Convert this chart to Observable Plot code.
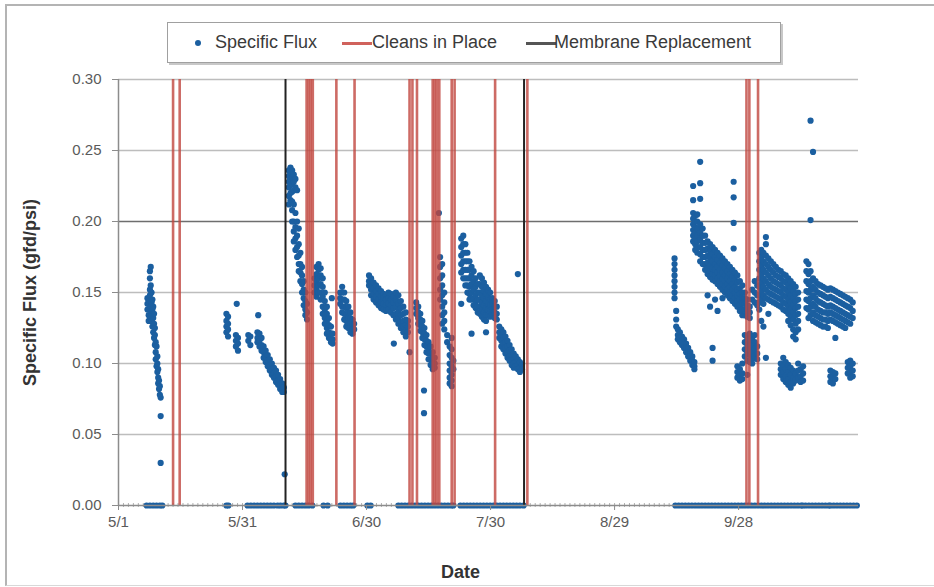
<!DOCTYPE html>
<html>
<head>
<meta charset="utf-8">
<script src="https://cdn.jsdelivr.net/npm/d3@7"></script>
<script src="https://cdn.jsdelivr.net/npm/@observablehq/plot@0.6"></script>
<style>
  html, body { margin: 0; padding: 0; background: #fff; }
  #wrap { position: relative; width: 934px; height: 587px; overflow: hidden; font-family: "Liberation Sans", Arial, sans-serif; }
  #border { position: absolute; left: 5px; top: 4px; width: 960px; height: 582px; border-left: 2px solid #b4b4b4; border-top: 2px solid #b4b4b4; border-bottom: 1px solid #d8d8d8; box-sizing: border-box; }
  #legend { position: absolute; left: 167px; top: 22px; width: 614px; height: 41px; border: 1px solid #a0a0a0; box-shadow: 2px 2px 0 #c8c8c8; box-sizing: border-box; background: #fff; }
  .li { position: absolute; top: 0; height: 39px; line-height: 39px; font-size: 18px; color: #3a3a3a; white-space: nowrap; }
  .sw { position: absolute; height: 3px; top: 19px; }
  .dotsw { position: absolute; width: 6px; height: 6px; border-radius: 3px; top: 17px; background: #1b5fa0; }
  svg { position: absolute; left: 0; top: 0; }
</style>
</head>
<body>
<div id="wrap">
  <div id="border"></div>
  <div id="chart"></div>
  <div id="legend"></div>
</div>
<script>
// ---- data (day offsets from May 1; each row = [day, flux values...]) ----
const startDate = Date.UTC(2005, 4, 1);
const endDate = Date.UTC(2005, 9, 27);
const xTickLabels = ["5/1", "5/31", "6/30", "7/30", "8/29", "9/28"];
const xTickDays = [0, 30, 60, 90, 120, 150];
const yTicks = [0, 0.05, 0.10, 0.15, 0.20, 0.25, 0.30];

const runA = [
  [7.0, 0.142, 0.138, 0.146], [7.3, 0.134, 0.130, 0.144], [7.6, 0.165, 0.160, 0.152, 0.148],
  [7.8, 0.168, 0.140, 0.133, 0.155], [8.0, 0.150, 0.143, 0.137, 0.130], [8.2, 0.145, 0.138, 0.126],
  [8.4, 0.132, 0.122, 0.140], [8.6, 0.128, 0.118, 0.135], [8.8, 0.113, 0.120, 0.125],
  [9.0, 0.108, 0.103, 0.115], [9.2, 0.112, 0.098], [9.4, 0.094, 0.100, 0.105],
  [9.6, 0.090, 0.086, 0.096], [9.8, 0.082, 0.088], [10.0, 0.078, 0.084], [10.2, 0.076, 0.063, 0.030]
];
const runB = [
  [26.1, 0.135, 0.130, 0.126, 0.122], [26.5, 0.133, 0.128, 0.124, 0.119],
  [28.4, 0.120, 0.116, 0.112], [28.6, 0.142], [28.9, 0.118, 0.114, 0.109],
  [31.4, 0.120, 0.116], [31.9, 0.119, 0.113], [33.8, 0.134],
  [33.6, 0.122, 0.118, 0.115], [34.1, 0.121, 0.116, 0.112], [34.6, 0.118, 0.113, 0.109],
  [35.1, 0.112, 0.108, 0.104], [35.6, 0.109, 0.105, 0.101], [36.1, 0.106, 0.102, 0.098],
  [36.6, 0.103, 0.099, 0.095], [37.1, 0.100, 0.096, 0.092], [37.6, 0.097, 0.093, 0.090],
  [38.1, 0.095, 0.091, 0.087], [38.6, 0.092, 0.088, 0.085], [39.1, 0.089, 0.085, 0.082],
  [39.6, 0.086, 0.083, 0.080], [40.0, 0.083, 0.080], [40.2, 0.022]
];
const runC = [
  [41.2, 0.236, 0.232, 0.228, 0.224, 0.218, 0.212], [41.6, 0.238, 0.234, 0.230, 0.226, 0.220, 0.215],
  [42.0, 0.236, 0.231, 0.226, 0.221, 0.214, 0.208, 0.200], [42.4, 0.233, 0.228, 0.222, 0.212, 0.200, 0.193, 0.186],
  [42.8, 0.230, 0.224, 0.206, 0.196, 0.188, 0.180], [43.2, 0.222, 0.200, 0.190, 0.182, 0.175],
  [43.6, 0.195, 0.184, 0.176, 0.170, 0.165], [44.0, 0.178, 0.170, 0.164, 0.158],
  [44.4, 0.168, 0.162, 0.156, 0.150], [44.8, 0.158, 0.152, 0.146, 0.141],
  [45.2, 0.150, 0.144, 0.138, 0.134], [45.6, 0.142, 0.136, 0.131]
];
const runD = [
  [47.4, 0.160, 0.155, 0.150], [47.9, 0.168, 0.163, 0.158, 0.152, 0.147],
  [48.4, 0.170, 0.166, 0.160, 0.155, 0.150], [48.9, 0.167, 0.162, 0.156, 0.150, 0.145],
  [49.4, 0.160, 0.154, 0.147, 0.140, 0.135], [49.9, 0.150, 0.144, 0.138, 0.132, 0.128],
  [50.4, 0.140, 0.135, 0.130, 0.125, 0.121], [50.9, 0.132, 0.127, 0.122, 0.118],
  [51.4, 0.126, 0.121, 0.117, 0.115], [51.8, 0.121, 0.117, 0.114], [51.6, 0.146]
];
const runE = [
  [53.6, 0.150, 0.146, 0.142], [54.1, 0.154, 0.150, 0.145, 0.140, 0.136],
  [54.6, 0.150, 0.145, 0.140, 0.135, 0.131], [55.1, 0.144, 0.139, 0.134, 0.130, 0.126],
  [55.6, 0.140, 0.136, 0.132, 0.128, 0.125], [56.1, 0.136, 0.132, 0.128, 0.125, 0.122],
  [56.6, 0.131, 0.127, 0.124, 0.121], [57.0, 0.128, 0.124]
];
const runF = [
  [60.6, 0.162, 0.158, 0.155], [61.1, 0.160, 0.156, 0.152, 0.148], [61.7, 0.157, 0.153, 0.149, 0.145],
  [62.3, 0.155, 0.151, 0.147, 0.143], [62.9, 0.153, 0.149, 0.145, 0.141], [63.5, 0.151, 0.147, 0.143, 0.139],
  [64.1, 0.149, 0.146, 0.142, 0.138], [64.7, 0.148, 0.145, 0.141, 0.137], [65.3, 0.150, 0.146, 0.142, 0.138],
  [65.9, 0.149, 0.145, 0.141, 0.136], [66.5, 0.147, 0.143, 0.139, 0.134], [67.1, 0.150, 0.145, 0.140, 0.135, 0.131],
  [67.7, 0.148, 0.142, 0.137, 0.132, 0.128], [68.3, 0.144, 0.139, 0.134, 0.129, 0.125],
  [68.9, 0.140, 0.135, 0.130, 0.126, 0.122], [69.5, 0.136, 0.131, 0.127, 0.123, 0.119],
  [70.0, 0.130, 0.126, 0.122], [66.6, 0.114], [70.4, 0.108]
];
const runG = [
  [72.0, 0.143, 0.139, 0.135], [72.5, 0.140, 0.136, 0.132, 0.128], [73.0, 0.135, 0.131, 0.127, 0.123],
  [73.5, 0.130, 0.126, 0.122, 0.118], [74.0, 0.125, 0.121, 0.117, 0.113], [74.5, 0.120, 0.116, 0.112, 0.108],
  [75.0, 0.115, 0.111, 0.107, 0.103], [75.5, 0.112, 0.107, 0.103, 0.099], [76.0, 0.108, 0.104, 0.100, 0.096],
  [76.5, 0.104, 0.100, 0.097], [73.9, 0.081, 0.065]
];
const runH = [
  [77.5, 0.206], [77.8, 0.175, 0.168, 0.160, 0.152, 0.145],
  [78.3, 0.170, 0.162, 0.155, 0.148, 0.140, 0.134, 0.128], [78.8, 0.150, 0.143, 0.136, 0.130, 0.124],
  [79.5, 0.120, 0.115], [80.1, 0.112, 0.106, 0.100, 0.095, 0.090, 0.086],
  [80.6, 0.118, 0.110, 0.104, 0.098, 0.092, 0.088, 0.084], [81.0, 0.102, 0.096]
];
const runI = [
  [82.9, 0.188, 0.182, 0.176, 0.170, 0.164, 0.142], [83.4, 0.190, 0.184, 0.178, 0.172, 0.166, 0.160],
  [83.9, 0.184, 0.178, 0.172, 0.166, 0.160, 0.155], [84.4, 0.178, 0.172, 0.166, 0.160, 0.155, 0.150],
  [84.9, 0.172, 0.166, 0.160, 0.154, 0.149, 0.145], [85.4, 0.168, 0.162, 0.156, 0.150, 0.145, 0.121],
  [85.9, 0.165, 0.158, 0.152, 0.146, 0.141], [86.4, 0.160, 0.154, 0.148, 0.143, 0.139],
  [86.9, 0.156, 0.150, 0.145, 0.140, 0.136], [87.4, 0.162, 0.156, 0.150, 0.145, 0.140, 0.135],
  [87.9, 0.160, 0.154, 0.148, 0.143, 0.138, 0.133], [88.4, 0.157, 0.151, 0.146, 0.141, 0.136, 0.131],
  [88.9, 0.154, 0.149, 0.144, 0.139, 0.134, 0.130, 0.122], [89.4, 0.152, 0.147, 0.142, 0.138, 0.134],
  [89.9, 0.150, 0.145, 0.141, 0.137, 0.133], [90.4, 0.146, 0.142, 0.138, 0.134],
  [91.0, 0.144, 0.140, 0.136, 0.132], [91.5, 0.140, 0.135, 0.131]
];
const runJ = [
  [92.1, 0.126, 0.122, 0.118], [92.6, 0.124, 0.120, 0.116, 0.112], [93.1, 0.122, 0.118, 0.114, 0.110],
  [93.6, 0.119, 0.115, 0.111, 0.107], [94.1, 0.116, 0.112, 0.108, 0.104], [94.6, 0.113, 0.109, 0.105, 0.102],
  [95.1, 0.110, 0.106, 0.102, 0.099], [95.6, 0.107, 0.103, 0.100, 0.097], [96.1, 0.105, 0.101, 0.098],
  [96.6, 0.103, 0.099, 0.096, 0.163], [97.1, 0.101, 0.097, 0.094], [97.6, 0.099, 0.096]
];
const runK1 = [
  [134.5, 0.174, 0.170, 0.166, 0.162, 0.158, 0.154, 0.150, 0.146], [134.9, 0.137, 0.131, 0.126],
  [135.3, 0.124, 0.120, 0.117], [135.8, 0.122, 0.118, 0.115], [136.3, 0.119, 0.116, 0.113],
  [136.8, 0.117, 0.114, 0.111], [137.3, 0.114, 0.111, 0.108], [137.8, 0.111, 0.108, 0.105],
  [138.3, 0.108, 0.105, 0.102], [138.8, 0.105, 0.102, 0.099], [139.3, 0.101, 0.098, 0.096]
];
const runK2 = [
  [139.0, 0.225, 0.215, 0.206, 0.202, 0.198, 0.194, 0.190, 0.186],
  [139.5, 0.204, 0.200, 0.196, 0.192, 0.188, 0.184, 0.180],
  [140.0, 0.205, 0.200, 0.195, 0.190, 0.186, 0.182, 0.178],
  [140.7, 0.242, 0.227, 0.216, 0.198, 0.192, 0.187, 0.182, 0.177, 0.172],
  [141.3, 0.195, 0.190, 0.185, 0.180, 0.175, 0.170],
  [141.9, 0.190, 0.185, 0.180, 0.175, 0.170, 0.166],
  [142.5, 0.186, 0.181, 0.176, 0.171, 0.167, 0.163, 0.148],
  [143.1, 0.184, 0.179, 0.174, 0.169, 0.165, 0.161, 0.140],
  [143.7, 0.182, 0.177, 0.172, 0.167, 0.163, 0.159, 0.111, 0.102],
  [144.3, 0.180, 0.175, 0.170, 0.166, 0.162, 0.158, 0.145],
  [144.9, 0.178, 0.173, 0.168, 0.164, 0.160, 0.156, 0.137],
  [145.5, 0.176, 0.171, 0.166, 0.162, 0.158, 0.154],
  [146.1, 0.174, 0.169, 0.164, 0.160, 0.156, 0.152, 0.146],
  [146.7, 0.172, 0.167, 0.162, 0.158, 0.154, 0.150],
  [147.3, 0.170, 0.165, 0.160, 0.156, 0.152, 0.148],
  [147.9, 0.168, 0.163, 0.158, 0.154, 0.150, 0.146],
  [148.5, 0.166, 0.161, 0.156, 0.152, 0.148, 0.144],
  [148.8, 0.228, 0.217, 0.199, 0.181],
  [149.1, 0.164, 0.159, 0.154, 0.150, 0.146, 0.142],
  [149.7, 0.162, 0.157, 0.152, 0.148, 0.144, 0.140, 0.098, 0.094, 0.090],
  [150.3, 0.158, 0.153, 0.149, 0.145, 0.141, 0.137, 0.096, 0.092, 0.088],
  [150.9, 0.155, 0.150, 0.146, 0.142, 0.138, 0.134, 0.100, 0.093, 0.089],
  [151.5, 0.150, 0.146, 0.142, 0.138, 0.134, 0.120, 0.115, 0.110, 0.105],
  [152.1, 0.145, 0.141, 0.137, 0.133, 0.118, 0.113, 0.108, 0.102, 0.092],
  [152.7, 0.140, 0.136, 0.132, 0.121, 0.116, 0.111, 0.106, 0.101],
  [153.3, 0.152, 0.145, 0.118, 0.113, 0.108, 0.103, 0.100],
  [153.9, 0.158, 0.150, 0.143, 0.120, 0.115, 0.110, 0.105],
  [154.5, 0.155, 0.148, 0.141, 0.112, 0.107, 0.103]
];
const runK3 = [
  [155.0, 0.178, 0.172, 0.166, 0.160, 0.154, 0.148, 0.143, 0.138],
  [155.5, 0.180, 0.175, 0.169, 0.163, 0.157, 0.151, 0.145, 0.130],
  [156.0, 0.178, 0.172, 0.166, 0.160, 0.154, 0.148, 0.142, 0.126],
  [156.6, 0.189, 0.184, 0.176, 0.170, 0.164, 0.158, 0.152, 0.146, 0.104],
  [157.2, 0.174, 0.168, 0.162, 0.156, 0.150, 0.145, 0.135],
  [157.8, 0.172, 0.166, 0.160, 0.154, 0.149, 0.144],
  [158.4, 0.170, 0.164, 0.158, 0.153, 0.148, 0.143],
  [159.0, 0.168, 0.162, 0.157, 0.152, 0.147, 0.142],
  [159.6, 0.166, 0.161, 0.156, 0.151, 0.146, 0.141],
  [160.2, 0.165, 0.160, 0.155, 0.150, 0.145, 0.140, 0.100, 0.096, 0.092],
  [160.8, 0.163, 0.158, 0.153, 0.148, 0.143, 0.138, 0.104, 0.098, 0.094, 0.089],
  [161.4, 0.162, 0.157, 0.152, 0.147, 0.142, 0.137, 0.101, 0.096, 0.091, 0.087],
  [162.0, 0.160, 0.155, 0.150, 0.145, 0.140, 0.135, 0.130, 0.099, 0.094, 0.089, 0.085],
  [162.6, 0.158, 0.153, 0.148, 0.143, 0.138, 0.133, 0.127, 0.097, 0.092, 0.087, 0.083],
  [163.2, 0.156, 0.151, 0.146, 0.141, 0.136, 0.131, 0.124, 0.119, 0.095, 0.090, 0.086],
  [163.8, 0.154, 0.149, 0.144, 0.139, 0.134, 0.128, 0.122, 0.117, 0.093, 0.088],
  [164.4, 0.150, 0.145, 0.140, 0.135, 0.130, 0.124, 0.100, 0.095, 0.090],
  [165.0, 0.096, 0.091, 0.087], [165.6, 0.098, 0.093, 0.088]
];
const runK4 = [
  [166.4, 0.172, 0.165, 0.158, 0.151, 0.145, 0.139],
  [166.9, 0.170, 0.163, 0.156, 0.150, 0.144, 0.138, 0.132],
  [167.4, 0.271, 0.201, 0.165, 0.158, 0.152, 0.146, 0.140, 0.134],
  [168.0, 0.249, 0.160, 0.154, 0.148, 0.142, 0.136, 0.130],
  [168.6, 0.158, 0.152, 0.146, 0.140, 0.134, 0.129],
  [169.2, 0.156, 0.150, 0.144, 0.138, 0.133, 0.128],
  [169.8, 0.155, 0.149, 0.143, 0.137, 0.132, 0.127],
  [170.4, 0.154, 0.148, 0.142, 0.136, 0.131, 0.126],
  [171.0, 0.153, 0.147, 0.141, 0.136, 0.131, 0.126],
  [171.6, 0.152, 0.146, 0.140, 0.135, 0.130, 0.125],
  [172.2, 0.153, 0.147, 0.141, 0.136, 0.131, 0.095, 0.091, 0.087],
  [172.8, 0.152, 0.146, 0.140, 0.135, 0.130, 0.094, 0.090, 0.086],
  [173.4, 0.151, 0.145, 0.139, 0.134, 0.129, 0.118, 0.093, 0.089],
  [174.0, 0.150, 0.144, 0.138, 0.133, 0.128],
  [174.6, 0.149, 0.143, 0.137, 0.132, 0.127],
  [175.2, 0.148, 0.142, 0.136, 0.131, 0.126],
  [175.8, 0.147, 0.141, 0.135, 0.130, 0.125],
  [176.4, 0.146, 0.140, 0.134, 0.129, 0.101, 0.097, 0.093],
  [177.0, 0.145, 0.139, 0.133, 0.128, 0.102, 0.098, 0.094, 0.090],
  [177.6, 0.143, 0.137, 0.132, 0.100, 0.095, 0.091]
];
// days when specific flux was recorded as 0.00 (system offline)
const zeroDays = [
  6.8, 7.6, 8.4, 9.2, 10.0, 10.6,
  26.1, 26.6,
  31.2, 32.0, 32.8, 33.6, 34.4, 35.2, 36.0, 36.8, 37.6, 38.5,
  39.2, 40.0, 40.4,
  42.8, 43.6, 44.4, 45.2, 46.0, 46.9,
  49.6, 50.6,
  53.7, 54.5, 55.3, 56.1, 56.8,
  60.2, 61.0,
  67.7, 68.5, 69.3, 70.1, 70.9, 71.7, 72.5, 73.3, 74.1, 74.9, 75.7, 76.5, 77.3, 78.1, 78.9, 79.7, 80.5, 81.0,
  82.7, 83.5, 84.3, 85.1, 85.9, 86.7, 87.5, 88.3, 89.1, 89.9, 90.7, 91.5, 92.3, 93.1, 93.9, 94.7, 95.5, 96.3, 97.1, 98.0,
  134.7, 135.5, 136.3, 137.1, 137.9, 138.7, 139.5, 140.3, 141.1, 141.9, 142.7, 143.5, 144.3, 145.1, 145.9,
  146.7, 147.5, 148.3, 149.1, 149.9, 150.7, 151.5, 152.3, 153.1, 153.9, 154.7, 155.5, 156.3, 157.1, 157.9,
  158.7, 159.5, 160.3, 161.1, 161.9, 162.7, 163.5, 164.3, 165.1, 165.5,
  166.2, 167.0, 167.8, 168.6, 169.4, 170.2, 171.0, 171.8, 172.2,
  173.0, 173.8, 174.6, 175.4, 176.2, 177.0, 177.8, 178.6
];
const cleanDays = [13.2, 14.8, 45.5, 46.0, 46.5, 47.0, 52.7, 57.1, 70.4, 71.1, 72.2,
  76.0, 76.5, 77.0, 77.6, 80.6, 81.3, 91.1, 98.9, 151.9, 152.6, 154.7];
const replaceDays = [40.4, 98.1];

// ---- build ----
const toDate = d => new Date(startDate + d * 864e5);
const runs = [runA, runB, runC, runD, runE, runF, runG, runH, runI, runJ, runK1, runK2, runK3, runK4];
const points = runs.flatMap(run => run.flatMap(([d, ...vs]) => vs.map(v => ({date: toDate(d), flux: v}))))
  .concat(zeroDays.map(d => ({date: toDate(d), flux: 0})));
const minorTicks = d3.range(0, 179, 1.2).map(toDate);
const FONT = "Liberation Sans, Arial, sans-serif";

const chart = Plot.plot({
  width: 934, height: 587,
  marginLeft: 118, marginRight: 76, marginTop: 79, marginBottom: 82,
  style: {fontFamily: FONT, background: "transparent", overflow: "visible"},
  x: {type: "utc", domain: [new Date(startDate), new Date(endDate)]},
  y: {domain: [0, 0.3]},
  marks: [
    Plot.ruleY(yTicks.filter(v => v !== 0.2 && v !== 0), {stroke: "#bdbdbd", strokeWidth: 1.5}),
    Plot.ruleY([0.2], {stroke: "#6e6e6e", strokeWidth: 1.5}),
    Plot.ruleX(minorTicks, {y1: -0.0014, y2: 0.0014, stroke: "#b0b0b0", strokeWidth: 1}),
    Plot.dot(points, {x: "date", y: "flux", r: 3.1, fill: "#1b5fa0", stroke: "none"}),
    Plot.ruleX(cleanDays.map(toDate), {y1: 0, y2: 0.3, stroke: "#c0463f", strokeWidth: 2.6, strokeOpacity: 0.8}),
    Plot.ruleX(replaceDays.map(toDate), {y1: 0, y2: 0.3, stroke: "#222", strokeWidth: 2}),
    Plot.ruleX([new Date(startDate)], {y1: 0, y2: 0.3, stroke: "#8c8c8c", strokeWidth: 1.5}),
    Plot.ruleY([0], {stroke: "#8c8c8c", strokeWidth: 1.5}),
    Plot.axisY({ticks: yTicks, tickFormat: d3.format(".2f"), tickSize: 6, tickPadding: 11,
      fontSize: 15, color: "#5a5a5a", stroke: "#8c8c8c", label: null}),
    Plot.axisX({ticks: xTickDays.map(toDate), tickFormat: (d, i) => xTickLabels[i], tickSize: 5, tickPadding: 6,
      fontSize: 15, color: "#5a5a5a", stroke: "#8c8c8c", label: null}),
    Plot.text(["Specific Flux (gfd/psi)"], {frameAnchor: "left", textAnchor: "middle", lineAnchor: "middle",
      dx: -88, rotate: -90, fontSize: 18, fontWeight: "bold", fill: "#333"}),
    Plot.text(["Date"], {frameAnchor: "bottom", lineAnchor: "middle", dx: -28, dy: 67,
      fontSize: 18, fontWeight: "bold", fill: "#333"})
  ]
});
document.getElementById("chart").appendChild(chart);

// ---- legend ----
const legendItems = [
  {label: "Specific Flux", kind: "dot", color: "#1b5fa0", sx: 27, tx: 47},
  {label: "Cleans in Place", kind: "line", color: "#d0625c", sx: 174, tx: 204},
  {label: "Membrane Replacement", kind: "line", color: "#555", sx: 358, tx: 386}
];
const legend = document.getElementById("legend");
for (const it of legendItems) {
  const s = document.createElement("div");
  if (it.kind === "dot") { s.className = "dotsw"; s.style.left = it.sx + "px"; s.style.background = it.color; }
  else { s.className = "sw"; s.style.left = it.sx + "px"; s.style.width = "30px"; s.style.background = it.color; }
  legend.appendChild(s);
  const t = document.createElement("div");
  t.className = "li"; t.style.left = it.tx + "px"; t.textContent = it.label;
  legend.appendChild(t);
}
</script>
</body>
</html>
